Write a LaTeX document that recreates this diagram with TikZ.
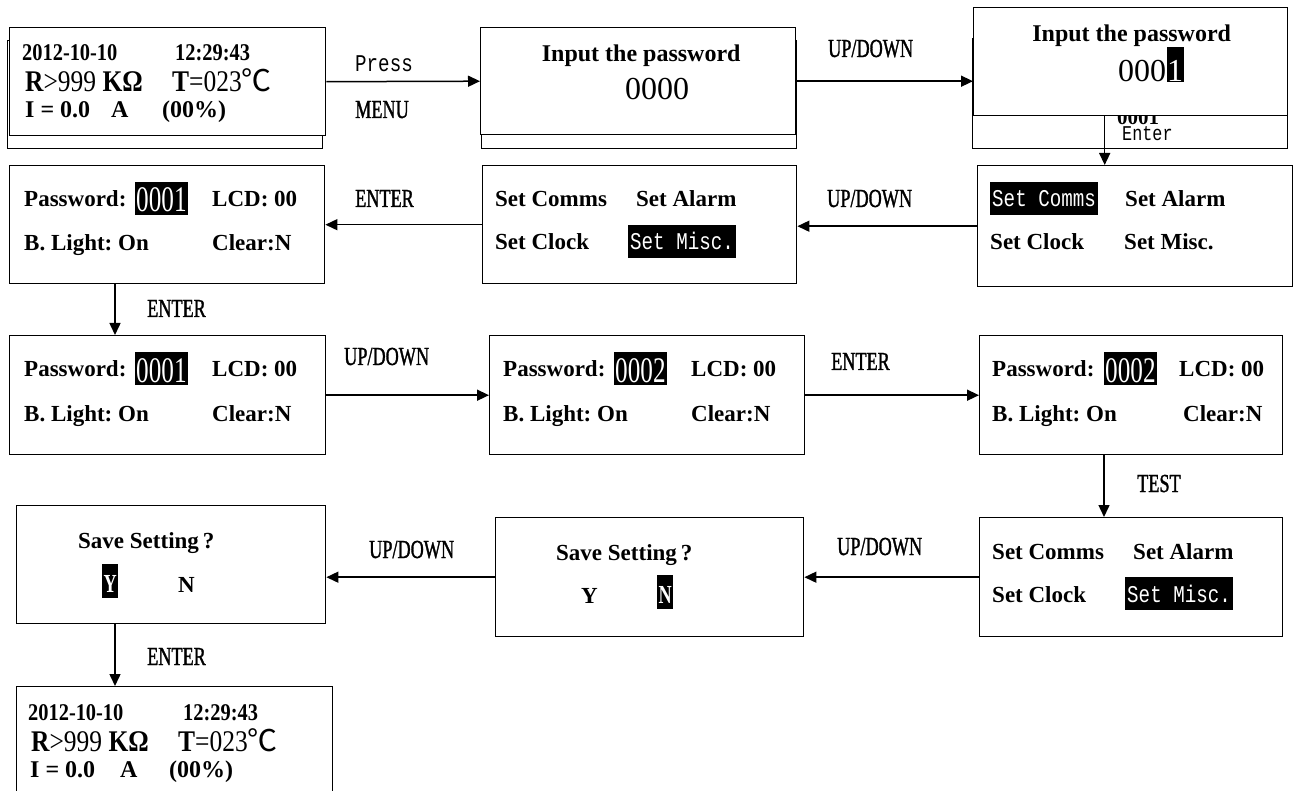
\documentclass[tikz,border=0pt]{standalone}
\usepackage{fontspec}
\setmainfont{Liberation Serif}
\newfontfamily\narrowfont[FakeStretch=0.7]{Liberation Serif}
\newfontfamily\labfont[FakeStretch=0.7,FakeBold=1.2]{Liberation Serif}
\newfontfamily\condfont[FakeStretch=0.85]{Liberation Serif}
\newfontfamily\monofont[FakeStretch=0.8]{Liberation Mono}
\newfontfamily\cjk{Noto Sans CJK SC}
\usetikzlibrary{arrows.meta}
\frenchspacing

\begin{document}
\begin{tikzpicture}[x=1pt,y=-1pt,
  scr/.style={draw,line width=1.4pt,fill=white,inner sep=0pt,anchor=north west},
  txt/.style={anchor=base west,inner sep=0pt,font=\bfseries\fontsize{23}{26}\selectfont},
  big/.style={anchor=base west,inner sep=0pt,font=\condfont\fontsize{30}{32}\selectfont},
  lab/.style={anchor=base west,inner sep=0pt,font=\labfont\fontsize{26}{28}\selectfont},
  hl/.style={anchor=base west,fill=black,text=white,inner xsep=2pt,inner ysep=0pt,text height=25pt,text depth=8pt,font=\monofont\fontsize{24}{26}\selectfont},
  hd/.style={hl,inner xsep=1pt,text height=30pt,text depth=3pt,font=\narrowfont\fontsize{36}{38}\selectfont},
  hn/.style={hl,inner xsep=1.5pt,text height=28pt,text depth=6pt,font=\narrowfont\bfseries\fontsize{26}{28}\selectfont},
  f/.style={-{Triangle[length=12pt,width=11pt]},line width=1.5pt}]
  \path[use as bounding box,fill=white] (0,0) rectangle (1298,791);
  % ---- row 1
  \node[scr,minimum width=315,minimum height=108] (s1b) at (7,40) {};
  \node[scr,minimum width=316,minimum height=108] (s1) at (9,27) {};
  \node[txt,font=\condfont\bfseries\fontsize{24}{26}\selectfont] (s1d) at ([shift={(13,34)}]s1.north west) {2012-10-10};
  \node[txt,font=\condfont\bfseries\fontsize{24}{26}\selectfont] (s1h) at ([shift={(166,34)}]s1.north west) {12:29:43};
  \node[big] (s1r) at ([shift={(16,65)}]s1.north west) {{\bfseries R}>999 {\bfseries KΩ}};
  \node[big] (s1t) at ([shift={(163,65)}]s1.north west) {{\bfseries T}=023{\cjk ℃}};
  \node[txt,font=\bfseries\fontsize{24}{26}\selectfont] (s1i) at ([shift={(16,91)}]s1.north west) {I = 0.0};
  \node[txt,font=\bfseries\fontsize{24}{26}\selectfont] (s1a) at ([shift={(102,91)}]s1.north west) {A};
  \node[txt,font=\bfseries\fontsize{24}{26}\selectfont] (s1p) at ([shift={(153,91)}]s1.north west) {(00\%)};
  \node[scr,minimum width=315,minimum height=108] (s2b) at (481,40) {};
  \node[scr,minimum width=315,minimum height=107] (s2) at (480,27) {};
  \node[txt,anchor=base,font=\bfseries\fontsize{24}{26}\selectfont] (s2t) at ([shift={(3,35)}]s2.north) {Input the password};
  \node[txt,anchor=base,font=\fontsize{32}{34}\selectfont] (s2n) at ([shift={(19,73)}]s2.north) {0000};
  \node[scr,minimum width=315,minimum height=110] (s3b) at (972,38) {};
  \node[txt,font=\bfseries\fontsize{21}{23}\selectfont] (s3o) at ([shift={(145,87)}]s3b.north west) {0001};
  \node[txt,font=\monofont\fontsize{21}{23}\selectfont] (s3e) at ([shift={(150,103)}]s3b.north west) {Enter};
  \node[scr,minimum width=314,minimum height=108] (s3) at (973,7) {};
  \node[txt,anchor=base,font=\bfseries\fontsize{24}{26}\selectfont] (s3t) at ([shift={(1,35)}]s3.north) {Input the password};
  \node[txt,font=\fontsize{32}{34}\selectfont] (s3n) at ([shift={(145,75)}]s3.north west) {000};
  \node[hl,inner xsep=0.5pt,text height=35pt,text depth=0pt,font=\fontsize{32}{34}\selectfont] (s3k) at (s3n.base east) {1};
  \node[lab,font=\monofont\fontsize{24}{26}\selectfont] (press) at (355,72) {Press};
  \node[lab] (menu) at (355,118) {MENU};
  \node[lab] (ud1) at (828,57) {UP/DOWN};
  \draw[f] (s1.east) -- (s2.west);
  \draw[f] (s2.east) -- (s2.east -| s3.west);
  % ---- row 2
  \node[scr,minimum width=315,minimum height=118] (s4) at (9,165) {};
  \node[txt] (s4p) at ([shift={(15,42)}]s4.north west) {Password:};
  \node[hd] (s4v) at ([shift={(126,47)}]s4.north west) {0001};
  \node[txt] (s4l) at ([shift={(203,42)}]s4.north west) {LCD: 00};
  \node[txt] (s4g) at ([shift={(15,86)}]s4.north west) {B. Light: On};
  \node[txt] (s4c) at ([shift={(203,86)}]s4.north west) {Clear:N};
  \node[scr,minimum width=314,minimum height=118] (s5) at (482,165) {};
  \node[txt] (s5a) at ([shift={(13,42)}]s5.north west) {Set Comms};
  \node[txt] (s5b) at ([shift={(154,42)}]s5.north west) {Set Alarm};
  \node[txt] (s5c) at ([shift={(13,85)}]s5.north west) {Set Clock};
  \node[hl] (s5d) at ([shift={(146,85)}]s5.north west) {Set Misc.};
  \node[scr,minimum width=315,minimum height=121] (s6) at (977,165) {};
  \node[hl] (s6a) at ([shift={(13,42)}]s6.north west) {Set Comms};
  \node[txt] (s6b) at ([shift={(148,42)}]s6.north west) {Set Alarm};
  \node[txt] (s6c) at ([shift={(13,85)}]s6.north west) {Set Clock};
  \node[txt] (s6d) at ([shift={(147,85)}]s6.north west) {Set Misc.};
  \node[lab] (ud2) at (827,207) {UP/DOWN};
  \node[lab] (en1) at (355,207) {ENTER};
  \node[lab] (en2) at (147,317) {ENTER};
  \draw[f] ([xshift=-26pt]s3.south) -- ([xshift=-26pt]s3.south |- s6.north);
  \draw[f] (s6.west) -- (s6.west -| s5.east);
  \draw[f] (s5.west) -- (s5.west -| s4.east);
  % ---- row 3
  \node[scr,minimum width=316,minimum height=119] (s7) at (9,335) {};
  \node[txt] (s7p) at ([shift={(15,42)}]s7.north west) {Password:};
  \node[hd] (s7v) at ([shift={(126,47)}]s7.north west) {0001};
  \node[txt] (s7l) at ([shift={(203,42)}]s7.north west) {LCD: 00};
  \node[txt] (s7g) at ([shift={(15,86)}]s7.north west) {B. Light: On};
  \node[txt] (s7c) at ([shift={(203,86)}]s7.north west) {Clear:N};
  \node[scr,minimum width=315,minimum height=119] (s8) at (489,335) {};
  \node[txt] (s8p) at ([shift={(14,42)}]s8.north west) {Password:};
  \node[hd] (s8v) at ([shift={(125,47)}]s8.north west) {0002};
  \node[txt] (s8l) at ([shift={(202,42)}]s8.north west) {LCD: 00};
  \node[txt] (s8g) at ([shift={(14,86)}]s8.north west) {B. Light: On};
  \node[txt] (s8c) at ([shift={(202,86)}]s8.north west) {Clear:N};
  \node[scr,minimum width=303,minimum height=119] (s9) at (979,335) {};
  \node[txt] (s9p) at ([shift={(13,42)}]s9.north west) {Password:};
  \node[hd] (s9v) at ([shift={(125,47)}]s9.north west) {0002};
  \node[txt] (s9l) at ([shift={(200,42)}]s9.north west) {LCD: 00};
  \node[txt] (s9g) at ([shift={(13,86)}]s9.north west) {B. Light: On};
  \node[txt] (s9c) at ([shift={(204,86)}]s9.north west) {Clear:N};
  \node[lab] (ud3) at (344,365) {UP/DOWN};
  \node[lab] (en3) at (831,370) {ENTER};
  \node[lab] (test) at (1137,492) {TEST};
  \draw[f] ([xshift=106pt]s4.south west) -- ([xshift=106pt]s4.south west |- s7.north);
  \draw[f] (s7.east) -- (s7.east -| s8.west);
  \draw[f] (s8.east) -- (s8.east -| s9.west);
  % ---- row 4
  \node[scr,minimum width=309,minimum height=118] (s10) at (16,505) {};
  \node[txt] (s10q) at ([shift={(62,43)}]s10.north west) {Save Setting\,?};
  \node[hn] (s10y) at ([shift={(86,87)}]s10.north west) {Y};
  \node[txt] (s10n) at ([shift={(162,87)}]s10.north west) {N};
  \node[scr,minimum width=308,minimum height=119] (s11) at (495,517) {};
  \node[txt] (s11q) at ([shift={(61,43)}]s11.north west) {Save Setting\,?};
  \node[txt] (s11y) at ([shift={(86,86)}]s11.north west) {Y};
  \node[hn] (s11n) at ([shift={(162,86)}]s11.north west) {N};
  \node[scr,minimum width=303,minimum height=119] (s12) at (979,517) {};
  \node[txt] (s12a) at ([shift={(13,42)}]s12.north west) {Set Comms};
  \node[txt] (s12b) at ([shift={(154,42)}]s12.north west) {Set Alarm};
  \node[txt] (s12c) at ([shift={(13,85)}]s12.north west) {Set Clock};
  \node[hl] (s12d) at ([shift={(146,85)}]s12.north west) {Set Misc.};
  \node[lab] (ud4) at (369,558) {UP/DOWN};
  \node[lab] (ud5) at (837,555) {UP/DOWN};
  \node[lab] (en4) at (147,665) {ENTER};
  \draw[f] ([xshift=125pt]s9.south west) -- ([xshift=125pt]s9.south west |- s12.north);
  \draw[f] (s12.west) -- (s12.west -| s11.east);
  \draw[f] (s11.west) -- (s11.west -| s10.east);
  % ---- row 5
  \node[scr,minimum width=316,minimum height=120] (s13) at (16,686) {};
  \node[txt,font=\condfont\bfseries\fontsize{24}{26}\selectfont] (s13d) at ([shift={(12,34)}]s13.north west) {2012-10-10};
  \node[txt,font=\condfont\bfseries\fontsize{24}{26}\selectfont] (s13h) at ([shift={(167,34)}]s13.north west) {12:29:43};
  \node[big] (s13r) at ([shift={(15,65)}]s13.north west) {{\bfseries R}>999 {\bfseries KΩ}};
  \node[big] (s13t) at ([shift={(162,65)}]s13.north west) {{\bfseries T}=023{\cjk ℃}};
  \node[txt,font=\bfseries\fontsize{24}{26}\selectfont] (s13i) at ([shift={(14,91)}]s13.north west) {I = 0.0};
  \node[txt,font=\bfseries\fontsize{24}{26}\selectfont] (s13a) at ([shift={(104,91)}]s13.north west) {A};
  \node[txt,font=\bfseries\fontsize{24}{26}\selectfont] (s13p) at ([shift={(153,91)}]s13.north west) {(00\%)};
  \draw[f] ([xshift=99pt]s10.south west) -- ([xshift=99pt]s10.south west |- s13.north);
\end{tikzpicture}
\end{document}
